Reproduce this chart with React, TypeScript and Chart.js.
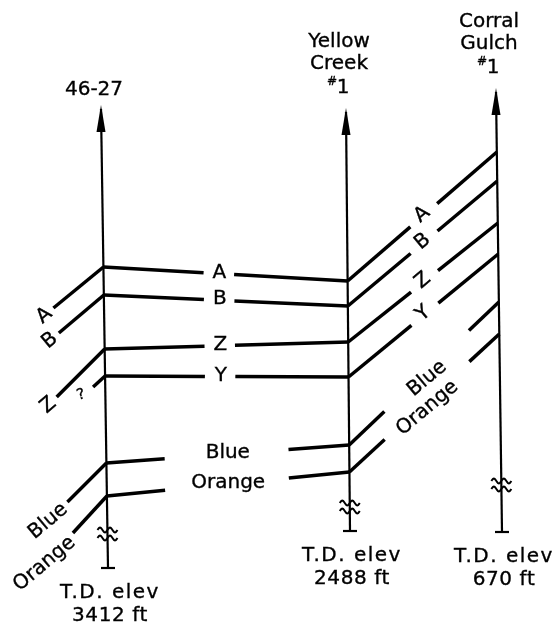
import React, { useEffect, useRef } from "react";
import { Chart, registerables } from "chart.js";

Chart.register(...registerables);

// Wells (position along the section, in picture units) and their names
const WELL_NAMES: string[][] = [["46-27"], ["Yellow", "Creek", "#1"], ["Corral", "Gulch", "#1"]];
const WELL_X_TOP = [101, 346, 496];
const WELL_X_BOTTOM = [108, 350, 502];
const WELL_TOP = [105, 108, 88];
const WELL_BREAK = [534, 507, 485];
const WELL_TD = [568, 531, 532];
const TD_ELEV = ["3412 ft", "2488 ft", "670 ft"];

// Horizons and their depth (picture units, down positive) at each well
const HORIZONS = ["A", "B", "Z", "Y", "Blue", "Orange"];
const DEPTH_46_27 = [267, 295, 349, 376, 463, 496];
const DEPTH_YELLOW_CREEK = [281, 306, 342, 377, 445, 472];
const DEPTH_CORRAL_GULCH = [152, 181, 223, 254, 302, 334];

// left stubs at 46-27 (projected towards the west)
const LEFT_STUB_DX = [-50, -45, -48, -12, -39, -34];
const LEFT_STUB_DY = [41, 38, 48, 11, 39, 37];
const LEFT_LABELS = ["A", "B", "Z", "?", "Blue", "Orange"];

const FONT = '"DejaVu Sans", sans-serif';
const ANG = (40 * Math.PI) / 180;

type Pt = { x: number; y: number };
type Seg = Pt[];

function lerp(a: Pt, b: Pt, t: number) {
  return { x: a.x + (b.x - a.x) * t, y: a.y + (b.y - a.y) * t };
}
function wellX(i: number, y: number) {
  const t = (y - WELL_TOP[i]) / (WELL_TD[i] - WELL_TOP[i]);
  return WELL_X_TOP[i] + (WELL_X_BOTTOM[i] - WELL_X_TOP[i]) * t;
}
function wellPt(i: number, depths: number[], h: number): Pt {
  return { x: wellX(i, depths[h]), y: depths[h] };
}

function buildSegments() {
  const heavy: Seg[] = [];
  const thin: Seg[] = [];
  HORIZONS.forEach((h, i) => {
    const p0 = wellPt(0, DEPTH_46_27, i);
    const p1 = wellPt(1, DEPTH_YELLOW_CREEK, i);
    const p2 = wellPt(2, DEPTH_CORRAL_GULCH, i);
    heavy.push([p0, { x: p0.x + LEFT_STUB_DX[i], y: p0.y + LEFT_STUB_DY[i] }]);
    const deep = i >= 4;
    const g1 = deep ? [0.24, 0.75] : [0.41, 0.535];
    heavy.push([p0, lerp(p0, p1, g1[0])]);
    heavy.push([lerp(p0, p1, g1[1]), p1]);
    const g2 = deep ? [0.235, 0.8] : [0.42, 0.6];
    heavy.push([p1, lerp(p1, p2, g2[0])]);
    heavy.push([lerp(p1, p2, g2[1]), p2]);
  });
  WELL_X_TOP.forEach((wx, i) => {
    thin.push([{ x: wx, y: WELL_TOP[i] + 4 }, { x: WELL_X_BOTTOM[i], y: WELL_TD[i] }]);
    const bx = WELL_X_BOTTOM[i];
    thin.push([{ x: bx - 7, y: WELL_TD[i] }, { x: bx + 7, y: WELL_TD[i] }]);
  });
  return { heavy, thin };
}

const annotPlugin = {
  id: "annot",
  afterDatasetsDraw(chart: any) {
    const { ctx } = chart;
    const xs = chart.scales.x;
    const ys = chart.scales.y;
    const px = (v: number) => xs.getPixelForValue(v);
    const py = (v: number) => ys.getPixelForValue(v);
    ctx.save();
    ctx.fillStyle = "#000";
    ctx.strokeStyle = "#000";
    ctx.textAlign = "center";
    ctx.textBaseline = "middle";

    const text = (t: string, x: number, y: number, rot = 0, size = 20, spacing = 0) => {
      ctx.save();
      ctx.font = `${size}px ${FONT}`;
      (ctx as any).letterSpacing = `${spacing}px`;
      ctx.translate(x, y);
      if (rot) ctx.rotate(rot);
      ctx.lineWidth = 0.35;
      ctx.fillText(t, 0, 0);
      ctx.strokeText(t, 0, 0);
      ctx.restore();
    };
    const hashOne = (x: number, y: number) => {
      ctx.save();
      ctx.lineWidth = 0.35;
      ctx.font = `12px ${FONT}`;
      ctx.fillText("#", x - 6, y - 4);
      ctx.strokeText("#", x - 6, y - 4);
      ctx.font = `20px ${FONT}`;
      ctx.fillText("1", x + 5, y + 2);
      ctx.strokeText("1", x + 5, y + 2);
      ctx.restore();
    };

    WELL_X_TOP.forEach((wxTop, i) => {
      // arrow head
      const x = px(wxTop);
      const top = py(WELL_TOP[i]);
      ctx.beginPath();
      ctx.moveTo(x, top);
      ctx.lineTo(x - 4.5, top + 27);
      ctx.lineTo(x + 4.5, top + 27);
      ctx.closePath();
      ctx.fill();
      // break symbol
      const b = py(WELL_BREAK[i]);
      const bx = px(wellX(i, WELL_BREAK[i]));
      ctx.lineWidth = 2;
      [-4, 4].forEach((off) => {
        ctx.beginPath();
        for (let k = 0; k <= 24; k++) {
          const xx = bx - 10 + (20 * k) / 24;
          const yy = b + off - 2.5 * Math.sin((k / 24) * Math.PI * 2 * 2);
          if (k === 0) ctx.moveTo(xx, yy);
          else ctx.lineTo(xx, yy);
        }
        ctx.stroke();
      });
      // well names
      const lines = WELL_NAMES[i];
      const lastY = top - (lines.length === 1 ? 15 : 22);
      lines.forEach((ln, k) => {
        const yy = lastY - (lines.length - 1 - k) * 22;
        if (ln === "#1") hashOne(x - 8, yy);
        else text(ln, x - 7, yy);
      });
      // T.D.
      const tdx = px(WELL_X_BOTTOM[i]);
      const td = py(WELL_TD[i]);
      text("T.D. elev", tdx + 2, td + 25, 0, 20, 1.5);
      text(TD_ELEV[i], tdx + 2, td + 48, 0, 20, 0.6);
    });

    // horizon labels
    HORIZONS.forEach((h, i) => {
      const p0 = wellPt(0, DEPTH_46_27, i);
      const p1 = wellPt(1, DEPTH_YELLOW_CREEK, i);
      const p2 = wellPt(2, DEPTH_CORRAL_GULCH, i);
      const dx = LEFT_STUB_DX[i];
      const dy = LEFT_STUB_DY[i];
      const len = Math.hypot(dx, dy);
      const ux = dx / len;
      const uy = dy / len;
      const ex = px(p0.x + dx);
      const ey = py(p0.y + dy);
      const lab = LEFT_LABELS[i];
      ctx.font = `20px ${FONT}`;
      const w = ctx.measureText(lab).width;
      if (lab === "?") {
        text(lab, ex - 12, ey + 8, -0.3, 15);
      } else {
        const d = w / 2 + 5;
        text(lab, ex + ux * d, ey + uy * d, -ANG);
      }
      const deep = i >= 4;
      const m = lerp(p0, p1, deep ? 0.5 : 0.475);
      text(h, px(m.x), py(m.y) - 1);
      const d2 = lerp(p1, p2, 0.5);
      if (deep) text(h, px(d2.x) + 3, py(d2.y) + 5, -ANG);
      else text(h, px(d2.x), py(d2.y) - 2, -ANG);
    });
    ctx.restore();
  },
};

export default function App() {
  const ref = useRef<HTMLCanvasElement | null>(null);
  useEffect(() => {
    if (!ref.current) return;
    const { heavy, thin } = buildSegments();
    const datasets: any[] = [
      ...thin.map((s) => ({ data: s, borderColor: "#000", borderWidth: 2.2, showLine: true, pointRadius: 0, borderCapStyle: "butt" })),
      ...heavy.map((s) => ({ data: s, borderColor: "#000", borderWidth: 3.5, showLine: true, pointRadius: 0, borderCapStyle: "butt" })),
    ];
    const chart = new Chart(ref.current, {
      type: "scatter",
      data: { datasets },
      options: {
        animation: false,
        responsive: false,
        layout: { padding: 0 },
        plugins: { legend: { display: false }, tooltip: { enabled: false } },
        scales: {
          x: { type: "linear", min: 0, max: 553, display: false },
          y: { type: "linear", min: 0, max: 628, reverse: true, display: false },
        },
      },
      plugins: [annotPlugin],
    });
    return () => chart.destroy();
  }, []);
  return (
    <div style={{ position: "absolute", left: 0, top: 0, width: 553, height: 628, background: "#fff" }}>
      <canvas ref={ref} width={553} height={628} />
    </div>
  );
}
